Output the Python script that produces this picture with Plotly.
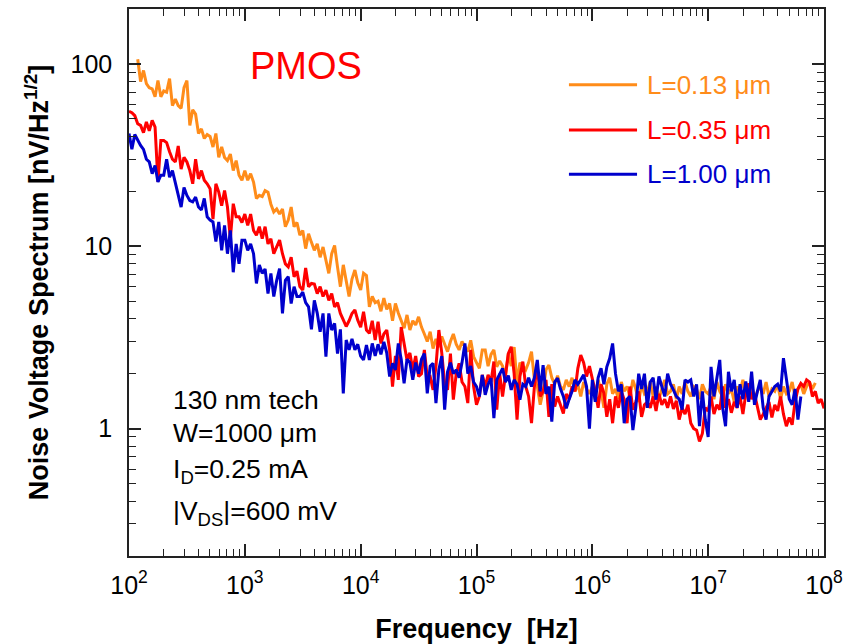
import plotly.graph_objects as go

# ---- frequency grid (40 points per decade) ----
MANTISSA = [1.000, 1.059, 1.122, 1.189, 1.259, 1.334, 1.413, 1.496, 1.585, 1.679,
            1.778, 1.884, 1.995, 2.113, 2.239, 2.371, 2.512, 2.661, 2.818, 2.985,
            3.162, 3.350, 3.548, 3.758, 3.981, 4.217, 4.467, 4.732, 5.012, 5.309,
            5.623, 5.957, 6.310, 6.683, 7.079, 7.499, 7.943, 8.414, 8.913, 9.441]
DECADES = [2, 3, 4, 5, 6, 7]
FREQ = [m * 10 ** d for d in DECADES for m in MANTISSA] + [1e8]

# ---- L = 0.13 um (orange), starts at FREQ[3] ----
orange_vals = (
    [106, 80, 92, 78, 74, 73, 66, 81, 66, 71, 70, 83, 59, 64, 59, 57, 74, 81, 46, 56,
     53, 41.5, 44, 39, 41, 40, 35, 41.5, 30.7, 35, 30.7, 29.5, 32, 26, 29.5, 24.5, 23]
    + [26, 23, 25, 22.5, 18.3, 19, 18.7, 20.2, 19.8, 17, 15.4, 16, 15, 16, 12.8, 13.9, 16.4, 12.8, 13.5, 11.5,
       12.2, 9.7, 11.7, 10.5, 9.5, 10.3, 8.7, 9.9, 8.4, 7.1, 9.1, 10.1, 7.7, 6.0, 7.9, 6.5, 5.3, 6.6, 7.4, 6.3]
    + [5.75, 7.1, 6.9, 4.65, 5.3, 4.9, 5.0, 4.4, 5.2, 4.5, 4.85, 3.9, 4.85, 4.3, 3.9, 3.55, 4.2, 3.47, 3.9, 3.7,
       4.1, 3.6, 3.3, 3.0, 3.4, 2.75, 3.1, 2.8, 3.2, 2.9, 2.64, 3.0, 3.3, 2.9, 2.7, 3.0, 2.8, 2.64, 3.05, 2.48]
    + [2.3, 2.14, 2.7, 2.7, 2.2, 2.55, 2.7, 2.18, 2.35, 2.2, 1.93, 2.58, 2.2, 2.8, 1.77, 2.3, 2.2, 2.1, 2.3, 2.64,
       1.85, 1.7, 1.35, 1.6, 2.1, 2.23, 1.9, 1.75, 1.95, 1.7, 1.63, 1.85, 1.7, 1.9, 1.6, 1.75, 1.5, 1.8, 1.65, 1.55]
    + [1.7, 1.45, 1.85, 1.6, 1.3, 1.75, 1.9, 1.55, 1.65, 1.45, 1.8, 1.6, 1.7, 1.5, 1.85, 1.65, 1.4, 1.75, 1.55, 1.6,
       1.8, 1.5, 1.7, 1.45, 1.65, 1.85, 1.55, 1.6, 1.75, 1.45, 1.7, 1.55, 1.8, 1.6, 1.5, 1.7, 1.65, 1.45, 1.75, 1.6]
    + [1.55, 1.7, 1.45, 1.8, 1.6, 1.5, 1.75, 1.55, 1.65, 1.4, 1.7, 1.6, 1.85, 1.5, 1.65, 1.75, 1.45, 1.6, 1.7, 1.55,
       1.8, 1.5, 1.65, 1.6, 1.75, 1.45, 1.7, 1.55, 1.6, 1.8, 1.5, 1.65, 1.75, 1.55, 1.7, 1.8, 1.65, 1.78]
)
orange_freq = FREQ[3:3 + len(orange_vals)]

# ---- L = 0.35 um (red) ----
red_vals = (
    [55, 54, 52, 47, 46, 42, 48, 43, 49, 45, 22.5, 38, 38, 37, 33, 30, 29, 35.5, 26.5, 30.7,
     29, 26, 22, 30, 23.4, 26, 23, 22, 20.7, 14.1, 22, 19.8, 16.7, 20.2, 16.4, 11, 17.1, 14.5, 14.5, 13.5]
    + [15, 13, 15, 12.2, 11.5, 12.8, 11, 12.8, 10.3, 11, 9.1, 10, 10.8, 9.1, 8, 7.7, 8.7, 6.8, 7.3, 6.0,
       5.75, 7.6, 6.0, 6.25, 6.2, 5.5, 6.0, 5.3, 5.75, 5.05, 5.5, 4.65, 4.9, 4.28, 3.93, 3.63, 3.9, 4.28, 4.47, 3.93]
    + [3.6, 4.37, 3.47, 3.33, 3.9, 3.06, 3.85, 2.93, 3.3, 3.47, 2.7, 1.7, 2.5, 1.85, 3.6, 2.9, 2.38, 2.6, 2.1, 2.5,
       1.93, 2.0, 2.7, 1.9, 1.93, 1.63, 2.2, 3.47, 2.6, 1.77, 1.63, 2.58, 1.44, 2.0, 2.28, 1.8, 1.7, 1.38, 2.7, 1.7]
    + [1.35, 1.5, 1.97, 1.7, 1.97, 1.8, 2.33, 1.27, 2.0, 1.5, 2.0, 2.58, 2.81, 2.0, 1.12, 1.93, 2.33, 1.7, 1.5, 1.07,
       1.7, 2.2, 1.5, 1.6, 1.85, 1.16, 1.75, 1.32, 1.5, 1.35, 1.21, 1.55, 1.45, 1.7, 1.6, 2.14, 2.53, 2.3, 1.93, 2.2]
    + [1.9, 1.6, 1.3, 1.75, 1.56, 1.16, 1.45, 1.07, 1.5, 1.3, 1.6, 1.44, 1.07, 1.7, 1.27, 1.4, 1.6, 1.16, 1.35, 1.4,
       1.3, 1.5, 1.25, 1.55, 1.35, 1.45, 1.3, 1.5, 1.28, 1.42, 1.12, 1.3, 1.2, 1.35, 1.07, 1.0, 0.98, 0.85, 0.94, 1.3]
    + [1.25, 1.5, 1.2, 1.35, 1.27, 1.7, 1.3, 1.45, 1.22, 1.4, 1.3, 1.5, 1.2, 1.55, 1.77, 1.45, 1.55, 1.3, 1.12, 1.2,
       1.3, 1.4, 1.15, 1.35, 1.25, 1.5, 1.2, 1.03, 1.15, 1.05, 1.4, 1.65, 1.77, 1.7, 1.85, 1.8, 1.5, 1.6, 1.38, 1.45,
       1.29]
)
red_freq = FREQ[:len(red_vals)]

# ---- L = 1.00 um (blue) ----
blue_vals = (
    [41.5, 34, 41, 38, 35.7, 34, 30, 29, 25, 27.7, 22.5, 24.5, 24.5, 30, 23.9, 26, 22, 19.4, 16.4, 21,
     19, 17.8, 17.5, 18.6, 16.4, 15.8, 18.3, 14.5, 13.9, 13.6, 10.6, 13.6, 9.5, 13.0, 9.1, 12.2, 7.2, 10.3, 8.0, 10.8]
    + [10.8, 9.5, 10.3, 9.1, 6.25, 7.9, 7.1, 7.5, 5.5, 7.1, 5.3, 6.5, 7.55, 4.28, 6.5, 6.8, 4.85, 6.0, 5.3, 5.3,
       5.6, 4.9, 4.65, 3.5, 5.05, 4.3, 3.4, 4.28, 2.48, 4.28, 3.47, 3.77, 2.58, 3.5, 1.56, 3.06, 2.7, 3.1, 2.7, 2.9]
    + [2.5, 2.38, 2.87, 2.38, 2.93, 2.5, 2.9, 2.55, 2.99, 2.6, 1.93, 2.28, 2.1, 2.93, 2.4, 1.77, 2.4, 2.3, 1.85, 2.3,
       2.0, 2.4, 2.58, 1.56, 2.2, 2.28, 1.38, 2.1, 2.5, 1.27, 2.05, 2.3, 2.0, 2.1, 1.9, 2.3, 2.93, 2.0, 2.2, 1.8]
    + [1.7, 1.5, 1.97, 1.53, 1.75, 1.89, 1.14, 1.85, 2.0, 2.14, 1.8, 1.95, 1.63, 1.85, 1.75, 1.44, 1.75, 1.7, 1.9, 1.7,
       1.9, 2.38, 1.6, 2.23, 1.55, 1.7, 1.09, 1.8, 1.89, 1.65, 1.5, 1.29, 1.45, 1.6, 1.85, 1.75, 1.85, 1.97, 1.7, 1.0]
    + [1.85, 1.4, 1.9, 2.14, 1.75, 2.18, 2.43, 2.93, 2.0, 1.6, 1.75, 1.07, 1.45, 1.5, 0.98, 1.3, 2.0, 1.65, 2.0, 1.3,
       1.8, 1.9, 1.44, 1.93, 1.7, 1.5, 2.0, 1.75, 1.63, 1.5, 1.45, 1.27, 1.85, 1.8, 1.85, 1.5, 1.75, 1.03, 1.6, 1.12]
    + [0.9, 2.18, 1.5, 1.85, 2.38, 1.3, 1.03, 2.05, 1.6, 1.85, 1.3, 1.75, 1.45, 1.81, 1.4, 2.05, 1.35, 1.6, 1.85, 1.3,
       1.12, 1.5, 1.6, 1.7, 1.75, 1.6, 2.43, 1.9, 1.45, 1.35, 1.65, 1.12, 1.5]
)
blue_freq = FREQ[:len(blue_vals)]

SERIES = [
    ("L=0.13 μm", orange_freq, orange_vals, "#FF8C1A"),
    ("L=0.35 μm", red_freq, red_vals, "#FF0000"),
    ("L=1.00 μm", blue_freq, blue_vals, "#0000CC"),
]

X_TICKS = [1e2, 1e3, 1e4, 1e5, 1e6, 1e7, 1e8]
X_TICKTEXT = ["10<sup>2</sup>", "10<sup>3</sup>", "10<sup>4</sup>", "10<sup>5</sup>",
              "10<sup>6</sup>", "10<sup>7</sup>", "10<sup>8</sup>"]
Y_TICKS = [1, 10, 100]
Y_TICKTEXT = ["1", "10", "100"]

FONT = "Liberation Sans, Arial, sans-serif"
AX = "#222222"

fig = go.Figure()
for name, fx, fy, col in SERIES:
    fig.add_trace(go.Scatter(x=fx, y=fy, mode="lines", name=name,
                             line=dict(color=col, width=3), showlegend=False))

# manual legend (long line samples + coloured text)
legend_y = [0.8615, 0.779, 0.698]
for (name, _, _, col), ly in zip(SERIES, legend_y):
    fig.add_shape(type="line", xref="paper", yref="paper", x0=0.633, x1=0.731, y0=ly, y1=ly,
                  line=dict(color=col, width=3))
    fig.add_annotation(xref="paper", yref="paper", x=0.742, y=ly, text=name, showarrow=False,
                       xanchor="left", yanchor="middle", font=dict(family=FONT, size=26, color=col))

fig.add_annotation(xref="paper", yref="paper", x=0.2549, y=0.896, text="PMOS", showarrow=False,
                   xanchor="center", yanchor="middle", font=dict(family=FONT, size=38, color="#FF0000"))

notes = [("130 nm tech", 0.2853), ("W=1000 μm", 0.225),
         ("I<sub>D</sub>=0.25 mA", 0.155), ("|V<sub>DS</sub>|=600 mV", 0.078)]
for txt, ny in notes:
    fig.add_annotation(xref="paper", yref="paper", x=0.061, y=ny, text=txt, showarrow=False,
                       xanchor="left", yanchor="middle", font=dict(family=FONT, size=26.5, color="black"))

axis_common = dict(
    type="log", showgrid=False, zeroline=False, showline=True, linecolor=AX, linewidth=1.5,
    mirror="allticks", ticks="inside", ticklen=12, tickwidth=1.5, tickcolor=AX,
    minor=dict(dtick="D1", ticks="inside", ticklen=7, tickwidth=1.3, tickcolor=AX, showgrid=False),
    tickfont=dict(family=FONT, size=25, color="black"),
)

fig.update_xaxes(**axis_common, range=[2, 8], tickmode="array", tickvals=X_TICKS, ticktext=X_TICKTEXT,
                 ticklabelstandoff=6,
                 title=dict(text="Frequency\u00a0 [Hz]", standoff=21,
                            font=dict(family=FONT, size=27, color="black", weight="bold")))
fig.update_yaxes(**axis_common, range=[-0.69897, 2.30103], tickmode="array", tickvals=Y_TICKS,
                 ticktext=Y_TICKTEXT, ticklabelstandoff=10,
                 title=dict(text="Noise Voltage Spectrum [nV/Hz<sup>1/2</sup>]", standoff=14,
                            font=dict(family=FONT, size=27, color="black", weight="bold")))

fig.update_layout(width=852, height=644, margin=dict(l=129, r=28, t=9, b=88, autoexpand=False),
                  plot_bgcolor="white", paper_bgcolor="white", showlegend=False)

fig.write_html("out.html")
